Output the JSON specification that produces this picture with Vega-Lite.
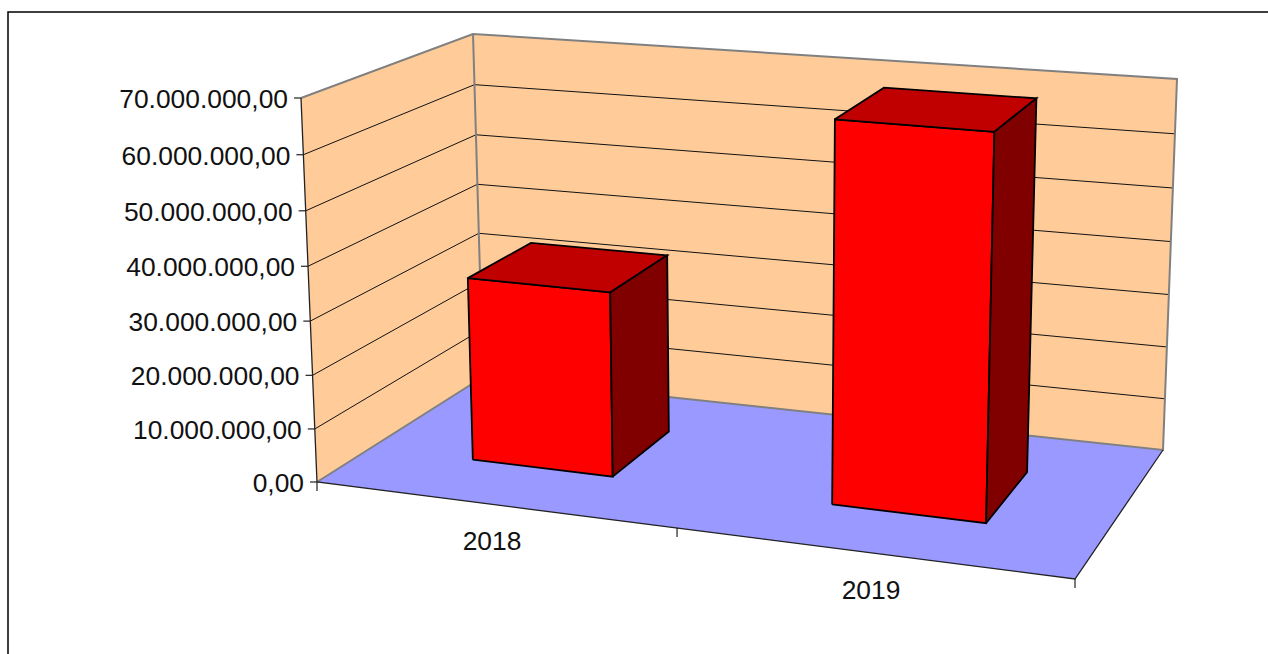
{
"$schema":"https://vega.github.io/schema/vega-lite/v6.json",
"width":1261,"height":643,
"autosize":{"type":"none"},
"padding":{"left":8,"top":12,"right":0,"bottom":0},
"background":"#ffffff",
"view":{"stroke":"#000000","strokeWidth":1.5,"fill":"#ffffff"},
"resolve":{"scale":{"fill":"independent"}},
"datasets":{
"bars":[{"year":"2018","value":34600000},{"year":"2019","value":69200000}],
"axis":[{"value":0,"label":"0,00"},{"value":10000000,"label":"10.000.000,00"},{"value":20000000,"label":"20.000.000,00"},{"value":30000000,"label":"30.000.000,00"},{"value":40000000,"label":"40.000.000,00"},{"value":50000000,"label":"50.000.000,00"},{"value":60000000,"label":"60.000.000,00"},{"value":70000000,"label":"70.000.000,00"}],
"boundaries":[{"u":0},{"u":0.475},{"u":1}],
"planes":[
{"face":"floor","k":0,"u":0,"value":0,"d":0},{"face":"floor","k":1,"u":1,"value":0,"d":0},{"face":"floor","k":2,"u":1,"value":0,"d":1},{"face":"floor","k":3,"u":0,"value":0,"d":1},{"face":"floor","k":4,"u":0,"value":0,"d":0},
{"face":"side","k":0,"u":0,"value":0,"d":0},{"face":"side","k":1,"u":0,"value":70000000,"d":0},{"face":"side","k":2,"u":0,"value":70000000,"d":1},{"face":"side","k":3,"u":0,"value":0,"d":1},{"face":"side","k":4,"u":0,"value":0,"d":0},
{"face":"back","k":0,"u":0,"value":0,"d":1},{"face":"back","k":1,"u":0,"value":70000000,"d":1},{"face":"back","k":2,"u":1,"value":70000000,"d":1},{"face":"back","k":3,"u":1,"value":0,"d":1},{"face":"back","k":4,"u":0,"value":0,"d":1}],
"edges":[
{"path":"wall","tone":"gray","k":0,"u":0,"value":70000000,"d":0},{"path":"wall","tone":"gray","k":1,"u":0,"value":70000000,"d":1},{"path":"wall","tone":"gray","k":2,"u":1,"value":70000000,"d":1},{"path":"wall","tone":"gray","k":3,"u":1,"value":0,"d":1},{"path":"wall","tone":"gray","k":4,"u":0,"value":0,"d":1},{"path":"wall","tone":"gray","k":5,"u":0,"value":0,"d":0},
{"path":"corner","tone":"gray","k":0,"u":0,"value":70000000,"d":1},{"path":"corner","tone":"gray","k":1,"u":0,"value":0,"d":1},
{"path":"front","tone":"black","k":0,"u":0,"value":70000000,"d":0},{"path":"front","tone":"black","k":1,"u":0,"value":0,"d":0},{"path":"front","tone":"black","k":2,"u":1,"value":0,"d":0},{"path":"front","tone":"black","k":3,"u":1,"value":0,"d":1}]
},
"encoding":{
"x":{"field":"px","type":"quantitative","scale":{"domain":[8,1269],"nice":false,"zero":false},"axis":null},
"y":{"field":"py","type":"quantitative","scale":{"domain":[655,12],"nice":false,"zero":false},"axis":null}
},
"layer":[
{"data":{"name":"planes"},
"transform":[
{"calculate":"datum.value/70000000","as":"v0"},
{"calculate":"datum.v0/(1+0.04*(1-datum.v0))","as":"v"},
{"calculate":"(1-datum.d)*((1-datum.u)*((1-datum.v)*317+datum.v*301)+datum.u*((1-datum.v)*1075+datum.v*1087))+datum.d*((1-datum.u)*((1-datum.v)*483+datum.v*473)+datum.u*((1-datum.v)*1163+datum.v*1177))","as":"px"},
{"calculate":"(1-datum.d)*((1-datum.u)*((1-datum.v)*482+datum.v*98)+datum.u*((1-datum.v)*579+datum.v*164))+datum.d*((1-datum.u)*((1-datum.v)*377+datum.v*34)+datum.u*((1-datum.v)*450+datum.v*79))","as":"py"}],
"mark":{"type":"line","strokeWidth":0,"fillOpacity":1},
"encoding":{"fill":{"field":"face","type":"nominal","scale":{"domain":["floor","side","back"],"range":["#9999FF","#FFCC99","#FFCC99"]},"legend":null},"order":{"field":"k","type":"quantitative"}}},
{"data":{"name":"axis"},
"transform":[
{"filter":"datum.value>0 && datum.value<70000000"},
{"calculate":"[0,1,2]","as":"k"},{"flatten":["k"]},
{"calculate":"[0,0,1][datum.k]","as":"u"},{"calculate":"[0,1,1][datum.k]","as":"d"},
{"calculate":"datum.value/70000000","as":"v0"},
{"calculate":"datum.v0/(1+0.04*(1-datum.v0))","as":"v"},
{"calculate":"(1-datum.d)*((1-datum.u)*((1-datum.v)*317+datum.v*301)+datum.u*((1-datum.v)*1075+datum.v*1087))+datum.d*((1-datum.u)*((1-datum.v)*483+datum.v*473)+datum.u*((1-datum.v)*1163+datum.v*1177))","as":"px"},
{"calculate":"(1-datum.d)*((1-datum.u)*((1-datum.v)*482+datum.v*98)+datum.u*((1-datum.v)*579+datum.v*164))+datum.d*((1-datum.u)*((1-datum.v)*377+datum.v*34)+datum.u*((1-datum.v)*450+datum.v*79))","as":"py"}],
"mark":{"type":"line","stroke":"#111111","strokeWidth":1},
"encoding":{"detail":{"field":"value","type":"nominal"},"order":{"field":"k","type":"quantitative"}}},
{"data":{"name":"edges"},
"transform":[
{"filter":"datum.tone=='gray'"},
{"calculate":"datum.value/70000000","as":"v"},
{"calculate":"(1-datum.d)*((1-datum.u)*((1-datum.v)*317+datum.v*301)+datum.u*((1-datum.v)*1075+datum.v*1087))+datum.d*((1-datum.u)*((1-datum.v)*483+datum.v*473)+datum.u*((1-datum.v)*1163+datum.v*1177))","as":"px"},
{"calculate":"(1-datum.d)*((1-datum.u)*((1-datum.v)*482+datum.v*98)+datum.u*((1-datum.v)*579+datum.v*164))+datum.d*((1-datum.u)*((1-datum.v)*377+datum.v*34)+datum.u*((1-datum.v)*450+datum.v*79))","as":"py"}],
"mark":{"type":"line","stroke":"#808080","strokeWidth":2},
"encoding":{"detail":{"field":"path","type":"nominal"},"order":{"field":"k","type":"quantitative"}}},
{"data":{"name":"edges"},
"transform":[
{"filter":"datum.tone=='black'"},
{"calculate":"datum.value/70000000","as":"v"},
{"calculate":"(1-datum.d)*((1-datum.u)*((1-datum.v)*317+datum.v*301)+datum.u*((1-datum.v)*1075+datum.v*1087))+datum.d*((1-datum.u)*((1-datum.v)*483+datum.v*473)+datum.u*((1-datum.v)*1163+datum.v*1177))","as":"px"},
{"calculate":"(1-datum.d)*((1-datum.u)*((1-datum.v)*482+datum.v*98)+datum.u*((1-datum.v)*579+datum.v*164))+datum.d*((1-datum.u)*((1-datum.v)*377+datum.v*34)+datum.u*((1-datum.v)*450+datum.v*79))","as":"py"}],
"mark":{"type":"line","stroke":"#222222","strokeWidth":1.3},
"encoding":{"detail":{"field":"path","type":"nominal"},"order":{"field":"k","type":"quantitative"}}},
{"data":{"name":"bars"},
"transform":[
{"calculate":"datum.year=='2018'?0.138:0.63","as":"u0"},
{"calculate":"datum.year=='2018'?0.329:0.84","as":"u1"},
{"calculate":"datum.year=='2018'?0.33:0.322","as":"d0"},
{"calculate":"0.73","as":"d1"},
{"calculate":"['front','top','side']","as":"face"},{"flatten":["face"]},
{"calculate":"[0,1,2,3,4]","as":"k"},{"flatten":["k"]},
{"calculate":"datum.u0+(datum.u1-datum.u0)*({front:[0,1,1,0,0],top:[0,1,1,0,0],side:[1,1,1,1,1]})[datum.face][datum.k]","as":"u"},
{"calculate":"datum.d0+(datum.d1-datum.d0)*({front:[0,0,0,0,0],top:[0,0,1,1,0],side:[0,1,1,0,0]})[datum.face][datum.k]","as":"d"},
{"calculate":"datum.value/70000000","as":"v0"},
{"calculate":"datum.v0/(1+0.04*(1-datum.v0))*({front:[0,0,1,1,0],top:[1,1,1,1,1],side:[0,0,1,1,0]})[datum.face][datum.k]","as":"v"},
{"calculate":"(1-datum.d)*((1-datum.u)*((1-datum.v)*317+datum.v*301)+datum.u*((1-datum.v)*1075+datum.v*1087))+datum.d*((1-datum.u)*((1-datum.v)*483+datum.v*473)+datum.u*((1-datum.v)*1163+datum.v*1177))","as":"px"},
{"calculate":"(1-datum.d)*((1-datum.u)*((1-datum.v)*482+datum.v*98)+datum.u*((1-datum.v)*579+datum.v*164))+datum.d*((1-datum.u)*((1-datum.v)*377+datum.v*34)+datum.u*((1-datum.v)*450+datum.v*79))","as":"py"}],
"mark":{"type":"line","stroke":"#000000","strokeWidth":1.8,"strokeJoin":"miter","fillOpacity":1},
"encoding":{"fill":{"field":"face","type":"nominal","scale":{"domain":["front","top","side"],"range":["#FF0000","#C00000","#800000"]},"legend":null},"detail":{"field":"year","type":"nominal"},"order":{"field":"k","type":"quantitative"}}},
{"data":{"name":"axis"},
"transform":[
{"calculate":"datum.value/70000000","as":"v0"},
{"calculate":"datum.v0/(1+0.04*(1-datum.v0))","as":"v"},
{"calculate":"(1-datum.v)*317+datum.v*301","as":"px"},
{"calculate":"(1-datum.v)*482+datum.v*98","as":"py"},
{"calculate":"datum.px-7","as":"px2"}],
"mark":{"type":"rule","stroke":"#222222","strokeWidth":1.2},
"encoding":{"x2":{"field":"px2"}}},
{"data":{"name":"boundaries"},
"transform":[
{"calculate":"317+758*datum.u","as":"px"},
{"calculate":"482+97*datum.u","as":"py"},
{"calculate":"datum.py+9","as":"py2"}],
"mark":{"type":"rule","stroke":"#222222","strokeWidth":1.2},
"encoding":{"y2":{"field":"py2"}}},
{"data":{"name":"axis"},
"transform":[
{"calculate":"datum.value/70000000","as":"v0"},
{"calculate":"datum.v0/(1+0.04*(1-datum.v0))","as":"v"},
{"calculate":"(1-datum.v)*317+datum.v*301","as":"px"},
{"calculate":"(1-datum.v)*482+datum.v*98","as":"py"}],
"mark":{"type":"text","font":"Liberation Sans","fontSize":26.4,"fill":"#111111","align":"right","baseline":"middle","dx":-13,"dy":2},
"encoding":{"text":{"field":"label","type":"nominal"}}},
{"data":{"name":"bars"},
"transform":[
{"calculate":"datum.year=='2018'?0.2375:0.7375","as":"u"},
{"calculate":"317+758*datum.u","as":"px"},
{"calculate":"482+97*datum.u","as":"py"}],
"mark":{"type":"text","font":"Liberation Sans","fontSize":26.4,"fill":"#111111","align":"center","baseline":"middle","dx":-5,"dy":37},
"encoding":{"text":{"field":"year","type":"nominal"}}}
]
}
